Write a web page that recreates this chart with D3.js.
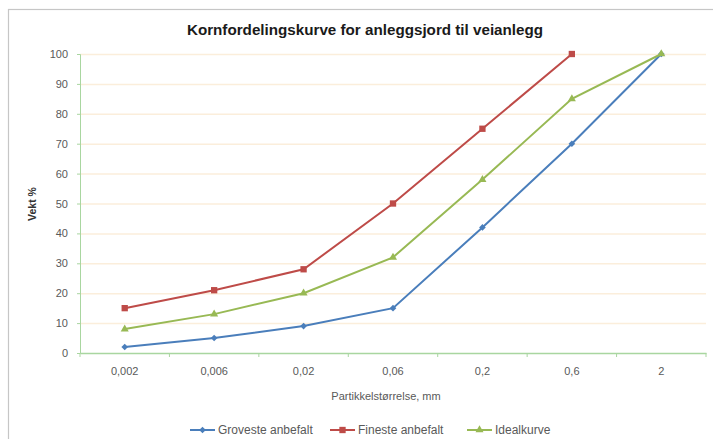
<!DOCTYPE html>
<html><head><meta charset="utf-8">
<script src="https://cdn.jsdelivr.net/npm/d3@7"></script>
<style>body{margin:0;background:#fff}svg{display:block}text{font-family:"Liberation Sans",Arial,sans-serif}</style>
</head><body>
<svg id="c" width="713" height="439"></svg>
<script>
const categories = ["0,002","0,006","0,02","0,06","0,2","0,6","2"];
const groveste = [2,5,9,15,42,70,100];
const fineste = [15,21,28,50,75,100,null];
const ideal = [8,13,20,32,58,85,100];
const yTicks = [0,10,20,30,40,50,60,70,80,90,100];
const seriesNames = ["Groveste anbefalt","Fineste anbefalt","Idealkurve"];

const svg = d3.select("#c");
const m = {l:80, r:706, t:54, b:353};
const x = d3.scaleBand().domain(categories).range([m.l, m.r]);
const y = d3.scaleLinear().domain([0,100]).range([m.b, m.t]);

// outer border
svg.append("rect").attr("x",8.5).attr("y",9.5).attr("width",720).attr("height",440)
  .attr("fill","#fff").attr("stroke","#c6c6c6").attr("stroke-width",1.2);

// title
svg.append("text").attr("x",365).attr("y",35).attr("text-anchor","middle")
  .attr("font-size",15.2).attr("font-weight","bold").attr("fill","#1a1a1a")
  .text("Kornfordelingskurve for anleggsjord til veianlegg");

// gridlines
svg.append("g").selectAll("line").data(yTicks.filter(d=>d>0)).join("line")
  .attr("x1",m.l).attr("x2",m.r).attr("y1",d=>y(d)+0.5).attr("y2",d=>y(d)+0.5)
  .attr("stroke","#fbeedb").attr("stroke-width",1.5);

// y axis
const yAxis = svg.append("g").attr("transform",`translate(${m.l},0)`)
  .call(d3.axisLeft(y).tickValues(yTicks).tickSize(3).tickPadding(9));
yAxis.select(".domain").attr("stroke","#a9d6a0");
yAxis.selectAll(".tick line").attr("stroke","#a9d6a0");
yAxis.selectAll("text").attr("font-size",11).attr("fill","#595959");

// x axis
const xAxis = svg.append("g").attr("transform",`translate(0,${m.b})`)
  .call(d3.axisBottom(x).tickSize(0).tickPadding(14));
xAxis.select(".domain").attr("stroke","#a9d6a0").attr("stroke-width",1.5);
xAxis.selectAll("text").attr("font-size",11).attr("fill","#595959");
svg.append("g").selectAll("line").data(d3.range(categories.length+1)).join("line")
  .attr("x1",i=>m.l+i*x.step()).attr("x2",i=>m.l+i*x.step())
  .attr("y1",m.b).attr("y2",m.b+4).attr("stroke","#a9d6a0");

// axis titles
svg.append("text").attr("transform","translate(36,204) rotate(-90)").attr("text-anchor","middle")
  .attr("font-size",10.5).attr("font-weight","bold").attr("fill","#333").text("Vekt %");
svg.append("text").attr("x",386).attr("y",400).attr("text-anchor","middle")
  .attr("font-size",11).attr("fill","#595959").text("Partikkelstørrelse, mm");

const cx = c => x(c)+x.bandwidth()/2;
const series = [
  {name:seriesNames[0], vals:groveste, color:"#4a7ebb", mark:d3.symbolDiamond2, size:28},
  {name:seriesNames[1], vals:fineste, color:"#be4b48", mark:d3.symbolSquare, size:40},
  {name:seriesNames[2], vals:ideal, color:"#98b954", mark:d3.symbolTriangle, size:28}
];
const line = d3.line().defined(d=>d.v!=null).x(d=>cx(d.c)).y(d=>y(d.v));
series.forEach(s=>{
  const pts = categories.map((c,i)=>({c, v:s.vals[i]}));
  svg.append("path").datum(pts).attr("d",line).attr("fill","none")
    .attr("stroke",s.color).attr("stroke-width",2);
  svg.append("g").selectAll("path").data(pts.filter(d=>d.v!=null)).join("path")
    .attr("transform",d=>`translate(${cx(d.c)},${y(d.v)})`)
    .attr("d",d3.symbol(s.mark,s.size)).attr("fill",s.color);
});

// legend
const lx = [190, 330, 467];
series.forEach((s,i)=>{
  const g = svg.append("g").attr("transform",`translate(${lx[i]},430)`);
  g.append("line").attr("x1",0).attr("x2",25).attr("stroke",s.color).attr("stroke-width",2);
  g.append("path").attr("transform","translate(12.5,0)").attr("d",d3.symbol(s.mark,s.size)).attr("fill",s.color);
  g.append("text").attr("x",28).attr("y",4).attr("font-size",12).attr("fill","#595959").text(s.name);
});
</script>
</body></html>
